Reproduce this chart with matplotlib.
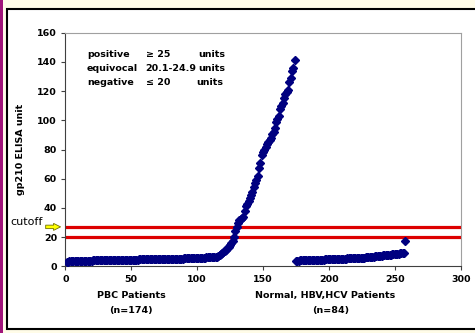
import matplotlib
matplotlib.use('Agg')
import matplotlib.pyplot as plt
from matplotlib.patches import Rectangle

# PBC patients (n=174), sorted values
pbc = [3.0, 3.2, 3.3, 3.4, 3.5, 3.5, 3.6, 3.6, 3.6, 3.7,
       3.7, 3.7, 3.8, 3.8, 3.8, 3.8, 3.9, 3.9, 3.9, 3.9,
       4.0, 4.0, 4.0, 4.0, 4.1, 4.1, 4.1, 4.1, 4.2, 4.2,
       4.2, 4.2, 4.2, 4.3, 4.3, 4.3, 4.3, 4.3, 4.4, 4.4,
       4.4, 4.4, 4.4, 4.5, 4.5, 4.5, 4.5, 4.5, 4.5, 4.6,
       4.6, 4.6, 4.6, 4.6, 4.6, 4.7, 4.7, 4.7, 4.7, 4.7,
       4.7, 4.8, 4.8, 4.8, 4.8, 4.8, 4.8, 4.9, 4.9, 4.9,
       4.9, 4.9, 5.0, 5.0, 5.0, 5.0, 5.0, 5.1, 5.1, 5.1,
       5.1, 5.2, 5.2, 5.2, 5.2, 5.3, 5.3, 5.3, 5.3, 5.4,
       5.4, 5.4, 5.5, 5.5, 5.5, 5.6, 5.6, 5.6, 5.7, 5.7,
       5.8, 5.8, 5.9, 5.9, 6.0, 6.0, 6.1, 6.1, 6.2, 6.2,
       6.3, 6.3, 6.4, 6.5, 6.6, 7.0, 7.5, 8.2, 9.0, 10.0,
       10.8, 11.5, 12.4, 13.5, 14.8, 16.0, 17.5, 20.0, 24.0, 27.0,
       30.0, 31.5, 32.5, 33.2, 33.8, 38.0, 41.0, 43.0, 45.0, 47.0,
       49.0, 51.0, 54.0, 57.0, 59.0, 62.0, 67.0, 71.0, 76.0, 78.5,
       80.0, 82.0, 83.5, 85.0, 86.5, 88.0, 90.5, 92.0, 95.0, 99.0,
       101.0, 103.0, 108.0, 110.0, 112.0, 115.0, 118.0, 119.5, 121.0, 126.0,
       129.0, 134.0, 136.0, 141.0]

# Normal, HBV, HCV patients (n=84), sorted values
ctrl = [3.6, 3.8, 3.9, 4.0, 4.0, 4.1, 4.1, 4.2, 4.2, 4.2,
        4.3, 4.3, 4.3, 4.4, 4.4, 4.4, 4.5, 4.5, 4.5, 4.6,
        4.6, 4.6, 4.7, 4.7, 4.7, 4.8, 4.8, 4.8, 4.9, 4.9,
        5.0, 5.0, 5.0, 5.1, 5.1, 5.2, 5.2, 5.3, 5.3, 5.4,
        5.4, 5.5, 5.5, 5.6, 5.6, 5.7, 5.7, 5.8, 5.8, 5.9,
        5.9, 6.0, 6.0, 6.1, 6.2, 6.3, 6.4, 6.5, 6.6, 6.7,
        6.8, 6.9, 7.0, 7.1, 7.2, 7.3, 7.4, 7.5, 7.6, 7.7,
        7.8, 7.9, 8.0, 8.1, 8.2, 8.3, 8.4, 8.5, 8.6, 8.8,
        9.0, 9.2, 9.4, 17.0]

pbc_x = list(range(1, len(pbc) + 1))
ctrl_x = list(range(len(pbc) + 1, len(pbc) + len(ctrl) + 1))

cutoffs = [20, 27]
xticks = [0, 50, 100, 150, 200, 250, 300]
yticks = [0, 20, 40, 60, 80, 100, 120, 140, 160]

cream = '#FFFCE8'
W, H = 475, 333
fig = plt.figure(figsize=(W / 100, H / 100), dpi=100, facecolor=cream)

# frame decorations
fig.patches.append(Rectangle((0, 0), 3 / W, 1, transform=fig.transFigure,
                             facecolor='#A0157A', edgecolor='none', zorder=-2))
fig.patches.append(Rectangle((6.5 / W, (H - 329) / H), 1.2, (329 - 9) / H,
                             transform=fig.transFigure, facecolor='white',
                             edgecolor='black', linewidth=1.5, zorder=-2))

ax = fig.add_axes([65.3 / W, (H - 266.3) / H, (460.7 - 65.3) / W, (266.3 - 32.7) / H])
ax.set_zorder(1)
ax.set_facecolor('white')

for c in cutoffs:
    ax.axhline(c, color='#DD0000', lw=2.3, zorder=2)

ax.plot(pbc_x, pbc, 'D', color='#000080', ms=3.6, mec='#000080', zorder=3)
ax.plot(ctrl_x, ctrl, 'D', color='#000080', ms=3.6, mec='#000080', zorder=3)

ax.set_xlim(0, 300)
ax.set_ylim(0, 160)
ax.set_xticks(xticks)
ax.set_yticks(yticks)
ax.tick_params(direction='out', length=3, width=0.8, labelsize=6.8, pad=3,
               color='#404040')
for lab in ax.get_xticklabels() + ax.get_yticklabels():
    lab.set_fontweight('bold')
ax.spines['left'].set_color('#404040')
ax.spines['bottom'].set_color('#404040')
ax.spines['top'].set_color('#A0A0A0')
ax.spines['right'].set_color('#A0A0A0')

ax.set_ylabel('gp210 ELISA unit', fontsize=6.8, fontweight='bold', labelpad=9)

ax.text(50, -20.3, 'PBC Patients', ha='center', va='center', fontsize=6.8,
        fontweight='bold', clip_on=False)
ax.text(50, -30.5, '(n=174)', ha='center', va='center', fontsize=6.8,
        fontweight='bold', clip_on=False)
ax.text(197, -20.3, 'Normal, HBV,HCV Patients', ha='center', va='center',
        fontsize=6.8, fontweight='bold', clip_on=False)
ax.text(201, -30.5, '(n=84)', ha='center', va='center', fontsize=6.8,
        fontweight='bold', clip_on=False)

rows = [('positive', '\u2265 25', 'units'),
        ('equivocal', '20.1-24.9', 'units'),
        ('negative', '\u2264 20', 'units')]
for i, (a, b, c) in enumerate(rows):
    y = 145 - i * 9.6
    ax.text(16.5, y, a, fontsize=6.8, fontweight='bold', va='center')
    ax.text(61, y, b, fontsize=6.8, fontweight='bold', va='center')
    ax.text(101 if i != 2 else 99, y, c, fontsize=6.8, fontweight='bold', va='center')

ax.text(-42, 30.5, 'cutoff', fontsize=8, va='center', clip_on=False)
ax.annotate('', xy=(-1.5, 27), xytext=(-17, 27), annotation_clip=False,
            arrowprops=dict(arrowstyle='simple,head_length=0.5,head_width=0.5,tail_width=0.25',
                            fc='#FFFF00', ec='#707000', lw=0.6))

fig.savefig('out.png', dpi=100, facecolor=cream)
